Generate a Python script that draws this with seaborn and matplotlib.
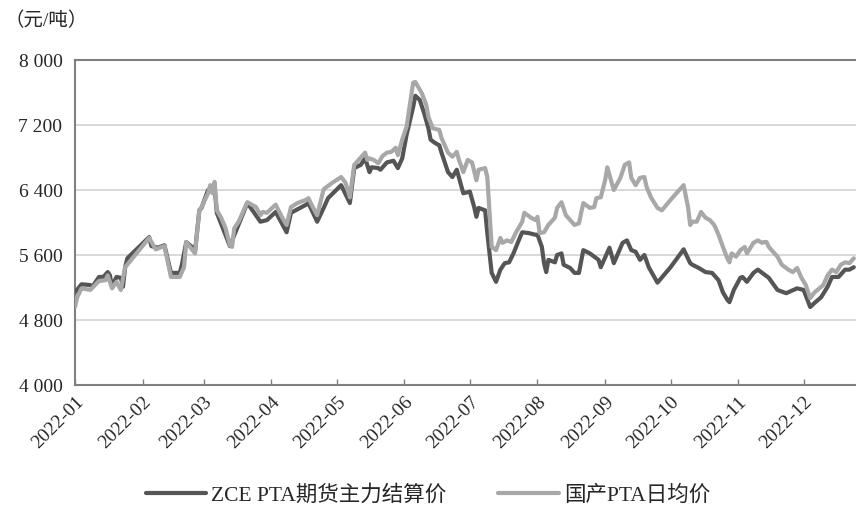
import matplotlib
matplotlib.use("Agg")
import matplotlib.dates as mdates
import matplotlib.pyplot as plt
import pandas as pd
import seaborn as sns
from matplotlib.ticker import FuncFormatter

COLOR_FUTURES = "#555555"
COLOR_SPOT = "#a8a8a8"
COLOR_AXIS = "#808080"
COLOR_GRID = "#d6d6d6"
FONT_SIZE = 14
LEGEND_SIZE = 15.5

zce_label = "ZCE PTA期货主力结算价"
spot_label = "国产PTA日均价"
unit_label = "（元/吨）"

zce_dates = [
    "2022-01-01", "2022-01-04", "2022-01-08", "2022-01-09", "2022-01-12", "2022-01-14",
    "2022-01-16", "2022-01-17", "2022-01-18", "2022-01-20", "2022-01-22", "2022-01-23",
    "2022-01-24", "2022-01-25", "2022-02-04", "2022-02-05", "2022-02-08", "2022-02-11",
    "2022-02-14", "2022-02-18", "2022-02-19", "2022-02-21", "2022-02-24", "2022-02-25",
    "2022-02-27", "2022-02-28", "2022-03-03", "2022-03-06", "2022-03-07", "2022-03-13",
    "2022-03-21", "2022-03-27", "2022-03-30", "2022-04-03", "2022-04-08", "2022-04-10",
    "2022-04-17", "2022-04-18", "2022-04-22", "2022-04-25", "2022-04-27", "2022-05-03",
    "2022-05-07", "2022-05-09", "2022-05-12", "2022-05-14", "2022-05-16", "2022-05-17",
    "2022-05-20", "2022-05-21", "2022-05-24", "2022-05-27", "2022-05-29", "2022-05-31",
    "2022-06-02", "2022-06-05", "2022-06-06", "2022-06-08", "2022-06-10", "2022-06-12",
    "2022-06-13", "2022-06-15", "2022-06-17", "2022-06-18", "2022-06-21", "2022-06-23",
    "2022-06-25", "2022-06-27", "2022-06-28", "2022-07-01", "2022-07-03", "2022-07-04",
    "2022-07-05", "2022-07-08", "2022-07-09", "2022-07-11", "2022-07-13", "2022-07-15",
    "2022-07-17", "2022-07-19", "2022-07-21", "2022-07-24", "2022-07-25", "2022-07-28",
    "2022-07-31", "2022-08-01", "2022-08-03", "2022-08-04", "2022-08-05", "2022-08-06",
    "2022-08-09", "2022-08-10", "2022-08-12", "2022-08-13", "2022-08-16", "2022-08-18",
    "2022-08-20", "2022-08-22", "2022-08-25", "2022-08-28", "2022-08-29", "2022-08-30",
    "2022-09-03", "2022-09-05", "2022-09-09", "2022-09-11", "2022-09-13", "2022-09-15",
    "2022-09-17", "2022-09-19", "2022-09-21", "2022-09-25", "2022-10-01", "2022-10-07",
    "2022-10-10", "2022-10-11", "2022-10-14", "2022-10-17", "2022-10-20", "2022-10-23",
    "2022-10-25", "2022-10-27", "2022-10-28", "2022-10-30", "2022-11-02", "2022-11-03",
    "2022-11-05", "2022-11-08", "2022-11-10", "2022-11-12", "2022-11-15", "2022-11-19",
    "2022-11-23", "2022-11-28", "2022-12-01", "2022-12-04", "2022-12-06", "2022-12-09",
    "2022-12-12", "2022-12-14", "2022-12-17", "2022-12-20", "2022-12-22", "2022-12-24",
]
zce_values = [
    5140, 5240, 5230, 5210, 5330, 5330,
    5390, 5350, 5210, 5330, 5320, 5210,
    5450, 5560, 5820, 5710, 5690, 5720,
    5380, 5380, 5480, 5760, 5690, 5640,
    6150, 6180, 6400, 6440, 6120, 5710,
    6240, 6010, 6030, 6130, 5880, 6120,
    6220, 6240, 6010, 6180, 6300, 6460,
    6240, 6670, 6710, 6790, 6620, 6680,
    6670, 6650, 6740, 6760, 6670, 6790,
    7080, 7420, 7560, 7510, 7350, 7160,
    7020, 6980, 6950, 6860, 6620, 6560,
    6650, 6460, 6360, 6380, 6190, 6070,
    6180, 6150, 5870, 5380, 5270, 5420,
    5500, 5510, 5620, 5820, 5880, 5870,
    5850, 5850, 5700, 5500, 5390, 5540,
    5510, 5600, 5620, 5480, 5440, 5380,
    5380, 5660, 5620, 5560, 5540, 5450,
    5690, 5500, 5750, 5780, 5660, 5640,
    5540, 5600, 5450, 5260, 5450, 5670,
    5500, 5480, 5440, 5390, 5380, 5290,
    5140, 5050, 5020, 5170, 5320, 5330,
    5270, 5380, 5420, 5380, 5320, 5170,
    5130, 5190, 5170, 4960, 5010, 5080,
    5210, 5330, 5330, 5420, 5420, 5450,
]

spot_dates = [
    "2022-01-01", "2022-01-02", "2022-01-04", "2022-01-08", "2022-01-12", "2022-01-15",
    "2022-01-16", "2022-01-18", "2022-01-20", "2022-01-22", "2022-01-24", "2022-02-04",
    "2022-02-07", "2022-02-11", "2022-02-14", "2022-02-18", "2022-02-20", "2022-02-21",
    "2022-02-25", "2022-02-27", "2022-02-28", "2022-03-03", "2022-03-04", "2022-03-05",
    "2022-03-06", "2022-03-07", "2022-03-09", "2022-03-11", "2022-03-13", "2022-03-14",
    "2022-03-15", "2022-03-17", "2022-03-21", "2022-03-23", "2022-03-25", "2022-03-27",
    "2022-03-28", "2022-03-30", "2022-04-03", "2022-04-06", "2022-04-08", "2022-04-10",
    "2022-04-13", "2022-04-17", "2022-04-18", "2022-04-20", "2022-04-22", "2022-04-25",
    "2022-04-29", "2022-05-03", "2022-05-05", "2022-05-07", "2022-05-09", "2022-05-11",
    "2022-05-14", "2022-05-15", "2022-05-16", "2022-05-18", "2022-05-20", "2022-05-22",
    "2022-05-24", "2022-05-26", "2022-05-28", "2022-05-29", "2022-05-31", "2022-06-02",
    "2022-06-04", "2022-06-05", "2022-06-06", "2022-06-09", "2022-06-11", "2022-06-12",
    "2022-06-14", "2022-06-17", "2022-06-18", "2022-06-21", "2022-06-23", "2022-06-25",
    "2022-06-26", "2022-06-28", "2022-06-30", "2022-07-02", "2022-07-04", "2022-07-05",
    "2022-07-08", "2022-07-09", "2022-07-11", "2022-07-13", "2022-07-15", "2022-07-16",
    "2022-07-18", "2022-07-20", "2022-07-22", "2022-07-25", "2022-07-26", "2022-07-29",
    "2022-07-31", "2022-08-01", "2022-08-02", "2022-08-04", "2022-08-06", "2022-08-09",
    "2022-08-10", "2022-08-12", "2022-08-14", "2022-08-16", "2022-08-18", "2022-08-20",
    "2022-08-22", "2022-08-25", "2022-08-27", "2022-08-28", "2022-08-30", "2022-09-01",
    "2022-09-02", "2022-09-05", "2022-09-08", "2022-09-10", "2022-09-12", "2022-09-13",
    "2022-09-15", "2022-09-17", "2022-09-19", "2022-09-20", "2022-09-22", "2022-09-25",
    "2022-09-27", "2022-10-02", "2022-10-07", "2022-10-09", "2022-10-10", "2022-10-11",
    "2022-10-13", "2022-10-15", "2022-10-17", "2022-10-19", "2022-10-21", "2022-10-23",
    "2022-10-25", "2022-10-27", "2022-10-28", "2022-10-29", "2022-10-31", "2022-11-02",
    "2022-11-04", "2022-11-05", "2022-11-08", "2022-11-10", "2022-11-12", "2022-11-13",
    "2022-11-14", "2022-11-15", "2022-11-19", "2022-11-21", "2022-11-24", "2022-11-26",
    "2022-11-28", "2022-11-30", "2022-12-02", "2022-12-04", "2022-12-06", "2022-12-10",
    "2022-12-12", "2022-12-14", "2022-12-16", "2022-12-18", "2022-12-20", "2022-12-22",
    "2022-12-24",
]
spot_values = [
    4960, 5080, 5190, 5170, 5280, 5290,
    5350, 5190, 5270, 5170, 5450, 5810,
    5670, 5710, 5330, 5330, 5450, 5760,
    5620, 6150, 6190, 6360, 6460, 6360,
    6500, 6150, 6060, 5930, 5720, 5700,
    5930, 6010, 6250, 6220, 6190, 6090,
    6130, 6120, 6220, 6060, 5970, 6190,
    6240, 6280, 6300, 6190, 6090, 6410,
    6490, 6560, 6490, 6310, 6710, 6770,
    6860, 6770, 6790, 6770, 6730, 6820,
    6860, 6870, 6920, 6830, 7020, 7180,
    7540, 7720, 7730, 7590, 7450, 7300,
    7160, 7140, 7040, 6860, 6810, 6870,
    6770, 6620, 6770, 6740, 6520, 6650,
    6670, 6560, 5700, 5660, 5810, 5750,
    5780, 5760, 5870, 6010, 6120, 6060,
    6030, 6070, 5870, 5880, 5970, 6060,
    6180, 6250, 6090, 6030, 5970, 5990,
    6240, 6180, 6190, 6300, 6310, 6520,
    6680, 6400, 6550, 6710, 6740, 6550,
    6460, 6550, 6560, 6440, 6310, 6180,
    6150, 6310, 6460, 6190, 5970, 6010,
    6010, 6130, 6060, 6030, 5970, 5850,
    5700, 5560, 5510, 5620, 5580, 5660,
    5700, 5620, 5750, 5780, 5750, 5760,
    5760, 5700, 5580, 5480, 5420, 5390,
    5440, 5320, 5230, 5070, 5140, 5230,
    5350, 5420, 5390, 5480, 5510, 5500,
    5560,
]

y_ticks = [4000, 4800, 5600, 6400, 7200, 8000]

sns.set_theme(style="white")
plt.rcParams["font.family"] = ["Liberation Serif", "Noto Sans CJK SC"]

fig = plt.figure(figsize=(8.56, 5.07), dpi=100)
ax = fig.add_axes([0.0876, 0.2406, 0.9124, 0.641])

sns.lineplot(
    x=pd.to_datetime(zce_dates), y=zce_values, ax=ax,
    color=COLOR_FUTURES, lw=3.0, label=zce_label, zorder=3,
)
sns.lineplot(
    x=pd.to_datetime(spot_dates), y=spot_values, ax=ax,
    color=COLOR_SPOT, lw=3.0, label=spot_label, zorder=4,
)

ax.set_xlim(pd.Timestamp("2022-01-01"), pd.Timestamp("2022-12-25"))
ax.set_ylim(4000, 8000)
ax.set_yticks(y_ticks)
ax.yaxis.set_major_formatter(FuncFormatter(lambda v, p: f"{v:,.0f}".replace(",", " ")))
ax.xaxis.set_major_locator(mdates.MonthLocator())
ax.xaxis.set_major_formatter(mdates.DateFormatter("%Y-%m"))
ax.set_xlabel("")
ax.set_ylabel("")

ax.grid(axis="y", color=COLOR_GRID, lw=1.3)
ax.tick_params(axis="x", direction="in", length=4, width=1, color=COLOR_AXIS,
               labelsize=FONT_SIZE, pad=6, bottom=True)
ax.tick_params(axis="y", length=0, labelsize=FONT_SIZE, pad=9)
for lbl in ax.get_xticklabels():
    lbl.set_rotation(45)
    lbl.set_ha("right")
    lbl.set_rotation_mode("anchor")

for side in ["left", "bottom", "top"]:
    ax.spines[side].set_color(COLOR_AXIS)
    ax.spines[side].set_linewidth(1.5)
ax.spines["right"].set_visible(False)

handles, labels = ax.get_legend_handles_labels()
ax.get_legend().remove()
fig.legend(
    handles, labels, loc="lower center", bbox_to_anchor=(0.5, -0.035), ncol=2,
    frameon=False, fontsize=LEGEND_SIZE, handlelength=2.8, columnspacing=2.4,
    handletextpad=0.25,
)
fig.text(0.005, 0.958, unit_label, fontsize=FONT_SIZE, va="center")

fig.savefig("out.png", dpi=100)
